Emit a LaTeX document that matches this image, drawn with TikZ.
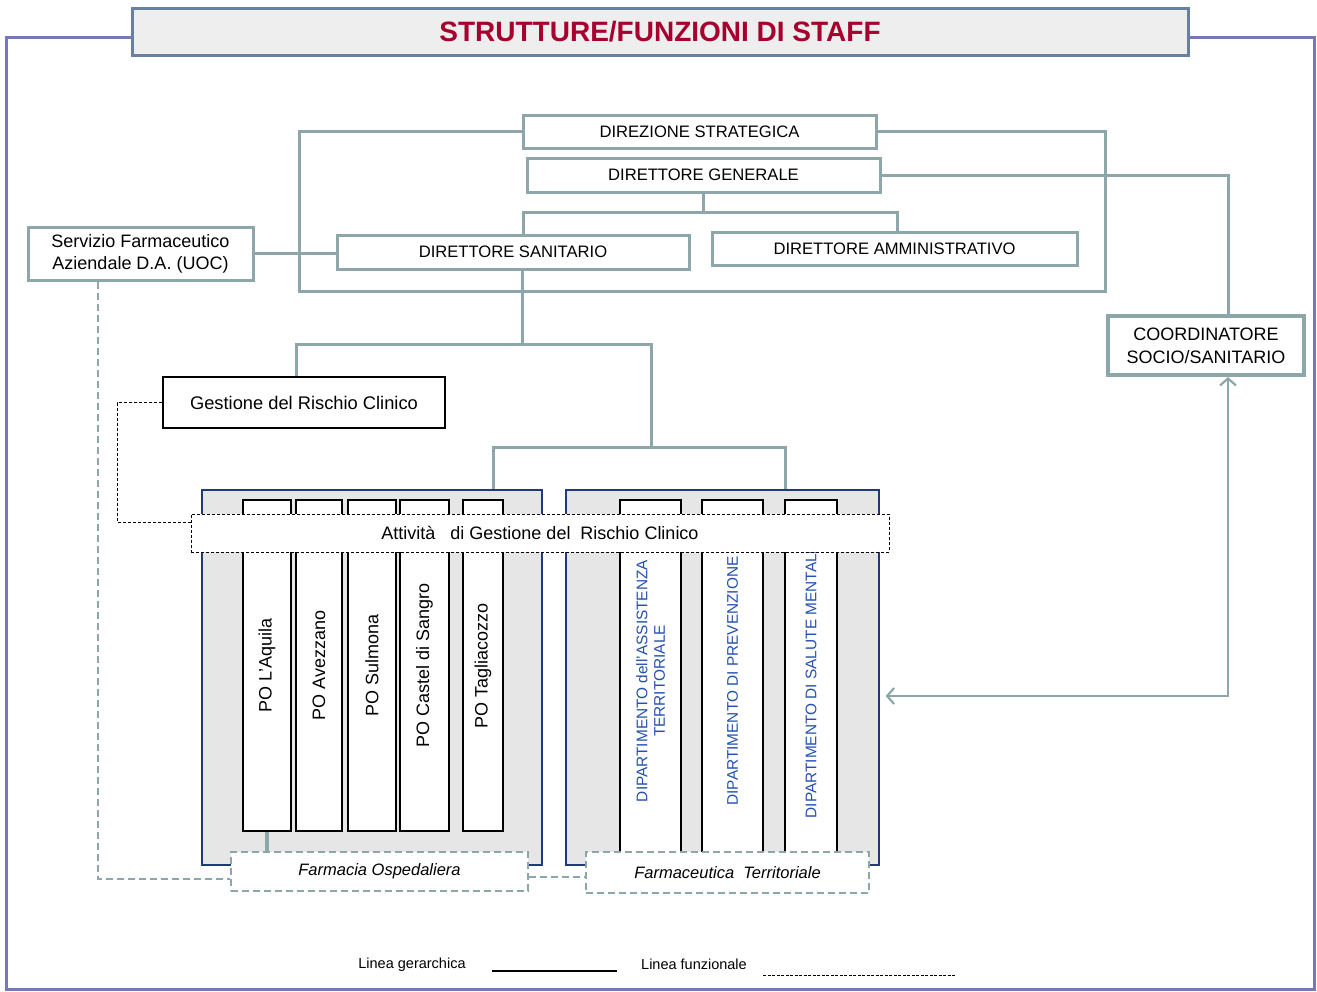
\documentclass[tikz,border=0pt]{standalone}
\usepackage{fontspec}
\setmainfont{Liberation Sans}
\usetikzlibrary{arrows.meta}
\definecolor{teal1}{HTML}{8DA6AA}
\definecolor{navy1}{HTML}{1F3A7A}
\definecolor{bluetxt}{HTML}{2450B0}
\definecolor{titlered}{HTML}{A8002E}
\definecolor{grayfill}{HTML}{E6E6E6}
\definecolor{frameblue}{HTML}{7878B8}
\definecolor{titleframe}{HTML}{6A80A0}
\definecolor{titlefill}{HTML}{EEEEEE}
\begin{document}
\begin{tikzpicture}[x=1pt,y=-1pt,
  hl/.style={draw=teal1,line width=3pt},
  fl/.style={draw=black,line width=0.9pt,dash pattern=on 3pt off 2pt},
  fld/.style={draw=teal1,line width=2.7pt,dash pattern=on 7pt off 4pt},
  tbox/.style={draw=teal1,line width=3pt,fill=white,inner sep=0pt,font=\fontsize{16.6}{19}\selectfont},
  bbox/.style={draw=black,line width=1.4pt,fill=white,inner sep=0pt},
  cont/.style={draw=navy1,line width=1.3pt,fill=grayfill,inner sep=0pt},
  pocol/.style={draw=black,line width=1.4pt,fill=white,inner sep=0pt,rotate=90,font=\fontsize{18}{21}\selectfont},
  dcol/.style={draw=black,line width=1.4pt,fill=white,inner sep=0pt,rotate=90,text=bluetxt,align=center,font=\fontsize{15.4}{17.5}\selectfont},
  farm/.style={fill=white,draw=teal1,line width=2.7pt,dash pattern=on 7pt off 4pt,inner sep=0pt,font=\fontsize{16.5}{19}\selectfont\itshape},
  tipboth/.style={arrows={Straight Barb[length=7pt,width=16pt,line width=2.2pt]-Straight Barb[length=7pt,width=16pt,line width=2.2pt]}}
]
\useasboundingbox (0,0) rectangle (1317,991);
% outer frame and title
\draw[frameblue,line width=3pt] (6,37) rectangle (1314,989);
\node[draw=titleframe,line width=3pt,fill=titlefill,minimum width=1056pt,minimum height=47pt,inner sep=0pt,
  text=titlered,font=\fontsize{28}{32}\selectfont\bfseries] (title) at (660,31.5) {STRUTTURE/FUNZIONI DI STAFF};

% boxes (top)
\node[tbox,minimum width=353pt,minimum height=33pt] (ds) at (699.5,131.5) {DIREZIONE STRATEGICA};
\node[tbox,minimum width=353pt,minimum height=34pt] (dg) at (703.5,175) {DIRETTORE GENERALE};
\node[tbox,minimum width=352pt,minimum height=34pt] (dsan) at (513,252) {DIRETTORE SANITARIO};
\node[tbox,minimum width=365pt,minimum height=33pt] (dam) at (894.5,248.5) {DIRETTORE AMMINISTRATIVO};
\node[tbox,minimum width=225pt,minimum height=53pt,align=center,font=\fontsize{18}{22}\selectfont] (sfa) at (140.5,253.5) {Servizio Farmaceutico\\Aziendale D.A. (UOC)};
\node[tbox,line width=4pt,minimum width=196pt,minimum height=59pt,align=center,font=\fontsize{18}{23}\selectfont] (coord) at (1206,345.5) {COORDINATORE\\SOCIO/SANITARIO};
\node[bbox,minimum width=282pt,minimum height=51pt,font=\fontsize{18.3}{21}\selectfont] (grc) at (304,402.5) {Gestione del Rischio Clinico};

% connectors (top)
\draw[hl] (ds.west) -| (299,291) -| (1105,131.5) -- (ds.east);
\draw[hl] (dg.south) -- ++(0,19) coordinate (j1);
\draw[hl] (j1) -| ([xshift=10pt]dsan.north);
\draw[hl] (j1) -| ([xshift=2.5pt]dam.north);
\draw[hl] (sfa.east) -- (sfa.east -| dsan.west);
\draw[hl] (dg.east) -| ([xshift=22pt]coord.north);
% redraw boxes over frame lines
\node[tbox,minimum width=352pt,minimum height=34pt] at (dsan) {DIRETTORE SANITARIO};
\node[tbox,minimum width=365pt,minimum height=33pt] at (dam) {DIRETTORE AMMINISTRATIVO};

% containers
\node[cont,minimum width=340pt,minimum height=375pt] (contL) at (372,677.5) {};
\node[cont,minimum width=313pt,minimum height=375pt] (contR) at (722.5,677.5) {};

\draw[hl] ([xshift=9pt]dsan.south) -- ++(0,74) coordinate (j2);
\draw[hl] (j2) -| ([xshift=-8pt]grc.north);
\coordinate (j3) at (651,447);
\draw[hl] (j2) -| (j3);
\draw[hl] (j3) -| ([xshift=121pt]contL.north);
\draw[hl] (j3) -| ([xshift=62.5pt]contR.north);

% columns
\node[pocol,minimum width=331pt,minimum height=48pt] (po1) at (267,665.5) {PO L’Aquila};
\node[pocol,minimum width=331pt,minimum height=46pt] (po2) at (319,665.5) {PO Avezzano};
\node[pocol,minimum width=331pt,minimum height=48pt] (po3) at (372,665.5) {PO Sulmona};
\node[pocol,minimum width=331pt,minimum height=49pt] (po4) at (424.5,665.5) {PO Castel di Sangro};
\node[pocol,minimum width=331pt,minimum height=40pt] (po5) at (483,665.5) {PO Tagliacozzo};
\node[dcol,minimum width=362pt,minimum height=61pt] (d1) at (650.5,681) {DIPARTIMENTO dell’ASSISTENZA\\TERRITORIALE};
\node[dcol,minimum width=362pt,minimum height=61pt] (d2) at (732.5,681) {DIPARTIMENTO DI PREVENZIONE};
\node[dcol,minimum width=362pt,minimum height=52pt] (d3) at (811,681) {DIPARTIMENTO DI SALUTE MENTALE};

% Attivita box
\node[fill=white,draw=black,line width=0.9pt,dash pattern=on 3pt off 2pt,minimum width=698pt,minimum height=38pt,inner sep=0pt,
  font=\fontsize{18}{21}\selectfont] (att) at (540,533) {Attività \ \ di Gestione del \ Rischio Clinico};
\draw[fl] (grc.west) -- ++(-45,0) |- ([yshift=11pt]att.west);

% farmacia boxes
\node[farm,minimum width=297pt,minimum height=39pt] (farmO) at (379.5,871.5) {Farmacia Ospedaliera};
\node[farm,minimum width=283pt,minimum height=41pt] (farmT) at (727.5,872.5) {Farmaceutica \ Territoriale};
\draw[hl,line width=3.5pt] (po1.west) -- (po1.west |- farmO.north);
\draw[fld] ([xshift=-42.5pt]sfa.south) |- ([yshift=-7.5pt]farmO.west);
\draw[fld] ([yshift=-5.5pt]farmO.east) -- ([yshift=-5.5pt]farmO.east -| farmT.west);

% bidirectional arrow
\draw[hl,line width=2.4pt,tipboth] ([xshift=22pt]coord.south) |- ([xshift=6pt,yshift=-18.5pt]contR.east);

% legend
\node[font=\fontsize{14.5}{16}\selectfont,anchor=base] (lg1) at (412,968) {Linea gerarchica};
\coordinate (lgA) at (492,971);
\coordinate (lgB) at (617,971);
\draw[black,line width=2pt] (lgA) -- (lgB);
\node[font=\fontsize{14.5}{16}\selectfont,anchor=base] (lg2) at (694,969) {Linea funzionale};
\coordinate (lgC) at (763,975);
\coordinate (lgD) at (955,975);
\draw[black,line width=0.7pt,dash pattern=on 3pt off 1.5pt] (lgC) -- (lgD);
\end{tikzpicture}
\end{document}
